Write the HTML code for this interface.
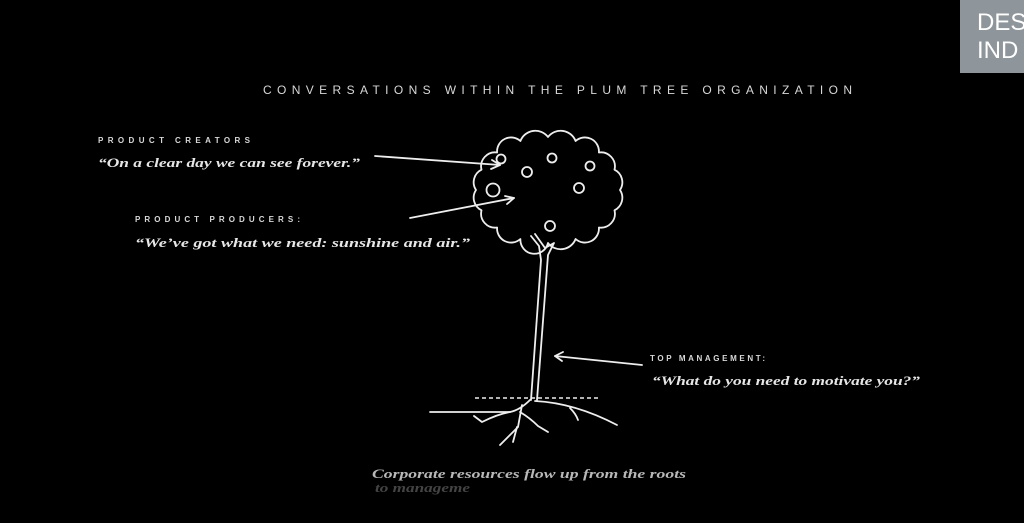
<!DOCTYPE html>
<html><head><meta charset="utf-8"><style>
html,body{margin:0;padding:0;background:#000;width:1024px;height:523px;overflow:hidden}
svg{display:block}
.cap{font-family:"Liberation Sans",sans-serif;font-weight:bold;fill:#d8d8d8}
.q{font-family:"Liberation Serif",serif;font-style:italic;font-weight:bold;fill:#e6e6e6}
</style></head><body>
<svg width="1024" height="523" viewBox="0 0 1024 523" xmlns="http://www.w3.org/2000/svg">
<rect width="1024" height="523" fill="#000"/>
<rect x="960" y="0" width="64" height="73" fill="#8e959b"/>
<text x="977" y="30" font-family="Liberation Sans,sans-serif" font-size="24" fill="#fff">DES</text>
<text x="977" y="58" font-family="Liberation Sans,sans-serif" font-size="24" fill="#fff">IND</text>

<text x="263" y="94" class="cap" font-size="12" textLength="589" lengthAdjust="spacing" style="font-weight:normal">CONVERSATIONS WITHIN THE PLUM TREE ORGANIZATION</text>

<text x="98" y="143" class="cap" font-size="8" textLength="152" lengthAdjust="spacing">PRODUCT CREATORS</text>
<text x="98" y="167" class="q" font-size="13" textLength="262" lengthAdjust="spacingAndGlyphs">“On a clear day we can see forever.”</text>

<text x="135" y="222" class="cap" font-size="8" textLength="165" lengthAdjust="spacing">PRODUCT PRODUCERS:</text>
<text x="135" y="247" class="q" font-size="13" textLength="335" lengthAdjust="spacingAndGlyphs">“We’ve got what we need: sunshine and air.”</text>

<text x="650" y="361" class="cap" font-size="8" textLength="115" lengthAdjust="spacing">TOP MANAGEMENT:</text>
<text x="652" y="385" class="q" font-size="13" textLength="268" lengthAdjust="spacingAndGlyphs">“What do you need to motivate you?”</text>

<text x="372" y="478" class="q" font-size="13" style="fill:#b8b8b8" textLength="314" lengthAdjust="spacingAndGlyphs">Corporate resources flow up from the roots</text>
<text x="375" y="492" class="q" font-size="13" style="fill:#444" textLength="95" lengthAdjust="spacingAndGlyphs">to manageme</text>

<g fill="none" stroke="#eee" stroke-width="1.8" stroke-linecap="round" stroke-linejoin="round">
<!-- canopy -->
<path d="M620,190 A14 14 0 0 1 614.5,210.3 A14 14 0 0 1 598.9,227.5 A14 14 0 0 1 575.6,239 A16 16 0 0 1 548,243 A14 14 0 0 1 520.4,239 A14 14 0 0 1 497.1,227.5 A14 14 0 0 1 481.5,210.3 A14 14 0 0 1 476,190 A14 14 0 0 1 481.5,169.7 A14 14 0 0 1 497.1,152.5 A14 14 0 0 1 520.4,141 A16 16 0 0 1 548,137 A16 16 0 0 1 575.6,141 A14 14 0 0 1 598.9,152.5 A14 14 0 0 1 614.5,169.7 A14 14 0 0 1 620,190 Z"/>
<circle cx="501" cy="159" r="4.5"/>
<circle cx="527" cy="172" r="5"/>
<circle cx="552" cy="158" r="4.5"/>
<circle cx="590" cy="166" r="4.5"/>
<circle cx="579" cy="188" r="5"/>
<circle cx="493" cy="190" r="6.5"/>
<circle cx="550" cy="226" r="5"/>
<!-- trunk -->
<path d="M531,236 l8,10 l2,14 l-10,140"/>
<path d="M535,234 l10,14 l9,-5 l-6,12 l-11,145"/>
<!-- roots -->
<path d="M530,400 q-10,10 -20,12 l-80,0"/>
<path d="M510,412 q-12,2 -28,10 l-8,-6"/>
<path d="M522,405 l-4,22 l-12,12 l-6,6"/>
<path d="M517,427 l-4,15"/>
<path d="M520,412 q10,6 18,14 l10,6"/>
<path d="M535,401 q40,2 82,24"/>
<path d="M570,408 q6,6 8,12"/>
<!-- arrows -->
<path d="M375,156 L500,165"/>
<path d="M492,160 L500,165 L491,169"/>
<path d="M410,218 L514,198"/>
<path d="M505,196 L514,198 L507,204"/>
<path d="M642,365 L555,356"/>
<path d="M563,352 L555,356 L562,361"/>
</g>
<line x1="475" y1="398" x2="600" y2="398" stroke="#eee" stroke-width="1.5" stroke-dasharray="4,3"/>
</svg>
</body></html>
